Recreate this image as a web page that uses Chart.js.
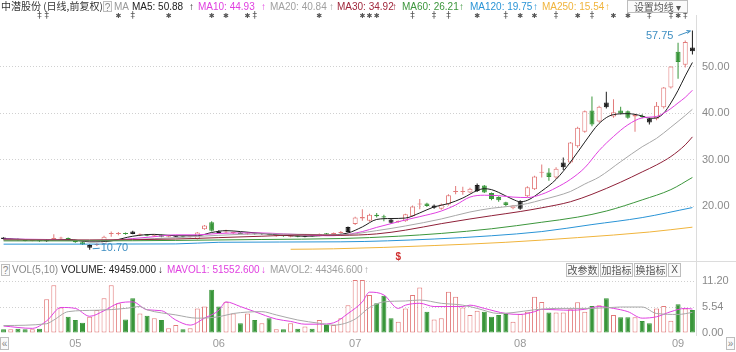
<!DOCTYPE html>
<html>
<head>
<meta charset="utf-8">
<script src="https://cdn.jsdelivr.net/npm/chart.js@4.4.1/dist/chart.umd.min.js"></script>
<style>
body { margin:0; background:#fff; width:736px; height:352px; overflow:hidden; position:relative;
       font-family:"Liberation Sans","Noto Sans CJK SC",sans-serif; }
canvas { position:absolute; left:0; }
.t { position:absolute; font-size:10px; line-height:12px; white-space:nowrap; z-index:2; }
.box { position:absolute; border:1px solid #bdbdbd; background:#fafafa; color:#555; font-size:10px;
       line-height:11px; text-align:center; z-index:2; box-sizing:border-box; }
.ln { position:absolute; background:#dcdcdc; z-index:1; }
</style>
</head>
<body>
<canvas id="price" width="736" height="262" style="top:0"></canvas>
<canvas id="vol" width="736" height="90" style="top:262px"></canvas>

<!-- top legend -->
<div class="t" style="left:1px;top:0;color:#333;font-family:'Noto Sans CJK SC'">中潜股份 (日线,前复权)</div>
<div class="box" style="left:103px;top:1px;width:9px;height:11px;color:#888">?</div>
<div class="t" style="left:114px;top:1px;color:#999">MA</div>
<div class="t" style="left:132px;top:1px;color:#222">MA5: 50.88</div>
<div class="t" style="left:189px;top:1px;color:#222">↑</div>
<div class="t" style="left:198px;top:1px;color:#e040e0">MA10: 44.93</div>
<div class="t" style="left:261px;top:1px;color:#e040e0">↑</div>
<div class="t" style="left:270px;top:1px;color:#a0a0a0">MA20: 40.84</div>
<div class="t" style="left:329px;top:1px;color:#a0a0a0">↑</div>
<div class="t" style="left:337px;top:1px;color:#a0283c">MA30: 34.92</div>
<div class="t" style="left:392px;top:1px;color:#a0283c">↑</div>
<div class="t" style="left:402px;top:1px;color:#3c963c">MA60: 26.21</div>
<div class="t" style="left:459px;top:1px;color:#3c963c">↑</div>
<div class="t" style="left:470px;top:1px;color:#2a94d6">MA120: 19.75</div>
<div class="t" style="left:533px;top:1px;color:#2a94d6">↑</div>
<div class="t" style="left:542px;top:1px;color:#f0b43c">MA250: 15.54</div>
<div class="t" style="left:605px;top:1px;color:#f0b43c">↑</div>
<div class="box" style="left:627px;top:0;width:61px;height:13px;font-family:'Noto Sans CJK SC'">设置均线 ▾</div>

<!-- volume legend -->
<div class="box" style="left:1px;top:264px;width:9px;height:12px;color:#888">?</div>
<div class="t" style="left:12px;top:264px;color:#888">VOL(5,10)</div>
<div class="t" style="left:61px;top:264px;color:#222">VOLUME: 49459.000</div>
<div class="t" style="left:158px;top:264px;color:#222">↓</div>
<div class="t" style="left:167px;top:264px;color:#e040e0">MAVOL1: 51552.600</div>
<div class="t" style="left:261px;top:264px;color:#e040e0">↓</div>
<div class="t" style="left:270px;top:264px;color:#a0a0a0">MAVOL2: 44346.600</div>
<div class="t" style="left:364px;top:264px;color:#a0a0a0">↑</div>
<div class="box" style="left:566px;top:263px;width:33px;height:14px;font-family:'Noto Sans CJK SC'">改参数</div>
<div class="box" style="left:600px;top:263px;width:33px;height:14px;font-family:'Noto Sans CJK SC'">加指标</div>
<div class="box" style="left:634px;top:263px;width:33px;height:14px;font-family:'Noto Sans CJK SC'">换指标</div>
<div class="box" style="left:668px;top:263px;width:13px;height:14px">X</div>

<div class="box" style="left:0;top:337px;width:9px;height:13px;color:#888">«</div>
<div class="box" style="left:726px;top:337px;width:9px;height:13px;color:#888">»</div>

<div class="ln" style="left:0;top:261px;width:736px;height:1px"></div>
<div class="ln" style="left:696px;top:15px;width:1px;height:321px"></div>

<script>
// daily candles, about mid April to early September
const opens  = [13.3,12.9,13.0,12.8,12.6,12.7,12.5,12.9,13.1,13.2, 12.7,12.3,11.1,11.7,11.9,14.1,14.1,14.3,14.6,13.9,
                14.0,13.6,13.8,13.5,13.5,13.6,13.4,13.0,15.1,16.6, 14.6,14.4,14.3,14.4,14.0,14.2,14.0,14.2,13.6,13.7,
                13.5,13.6,13.5,13.6,13.7,14.2,13.9,14.3,14.5,16.2, 17.4,16.9,18.2,17.9,17.2,16.6,16.8,17.9,20.4,20.6,
                19.7,19.5,20.4,23.1,23.1,23.0,23.3,24.5,22.9,22.0, 20.9,19.6,19.5,22.2,23.7,27.2,27.3,26.2,28.4,29.4,
                32.9,36.0,40.6,38.2,42.3,39.3,40.6,40.4,39.3,39.4, 38.8,38.8,41.3,45.5,53.2,50.4,54.1];
const highs  = [13.4,13.1,13.1,12.9,12.8,12.8,13.0,14.0,13.5,13.3, 12.8,12.4,11.9,12.1,13.7,14.6,14.5,14.4,14.8,14.2,
                14.1,13.9,13.9,13.7,13.7,13.7,13.6,14.5,16.0,16.8, 14.9,15.0,14.6,14.5,14.4,14.3,14.3,14.3,13.9,13.8,
                13.7,13.7,13.7,13.7,14.2,14.3,14.4,14.7,15.7,17.8, 19.4,18.4,18.6,18.2,17.4,17.0,18.4,20.2,21.6,20.8,
                20.4,20.6,22.6,24.4,24.2,24.0,24.9,24.6,23.0,22.2, 21.0,20.3,21.3,24.3,26.6,29.0,28.2,28.4,30.5,33.8,
                37.1,40.6,43.6,41.6,44.6,43.0,41.4,40.6,39.9,39.8, 39.0,42.4,45.6,50.1,55.1,55.6,57.75];
const lows   = [12.9,12.8,12.7,12.5,12.5,12.4,12.4,12.8,12.9,12.6, 12.2,11.7,10.7,11.5,11.8,13.5,13.8,13.9,14.0,13.7,
                13.6,13.5,13.4,13.4,13.4,13.3,13.3,12.9,15.0,14.6, 14.2,14.3,14.1,14.0,13.9,13.9,13.9,13.8,13.5,13.5,
                13.4,13.4,13.4,13.5,13.6,13.9,13.8,14.2,14.4,16.0, 16.9,16.7,17.6,16.8,16.3,16.5,16.7,17.8,19.4,19.9,
                19.5,19.3,20.2,22.6,22.5,22.9,23.1,22.9,21.3,21.0, 20.0,19.4,19.3,22.0,23.5,26.2,25.5,25.9,27.8,29.2,
                32.6,35.8,37.2,38.0,41.0,39.0,39.7,38.8,36.0,38.9, 37.6,38.5,41.0,45.3,47.4,49.8,52.6];
const closes = [13.0,13.0,12.8,12.6,12.7,12.5,12.9,13.2,13.3,12.7, 12.3,11.8,11.7,11.9,13.5,14.2,14.2,14.1,14.1,14.0,
                13.7,13.8,13.5,13.6,13.6,13.4,13.5,14.4,15.9,14.8, 14.3,14.6,14.4,14.1,14.2,14.0,14.1,13.9,13.7,13.6,
                13.6,13.5,13.6,13.55,14.1,14.0,14.3,14.5,15.6,17.6, 17.7,18.2,17.9,17.6,16.5,16.9,18.3,20.0,20.6,20.1,
                20.2,20.4,22.4,23.3,23.25,23.8,24.6,23.0,21.6,21.3, 20.3,20.2,21.1,24.1,26.4,27.4,26.3,28.1,29.4,33.7,
                36.9,40.4,37.6,41.4,41.3,40.2,40.0,39.0,39.6,39.2, 38.0,41.6,45.5,50.0,51.0,55.3,53.3];
// volume, 10k lots
const volumes = [0.8,0.8,0.9,0.8,0.8,0.9,7.25,10.3,5.5,3.5, 2.8,2.2,3.5,4.95,7.5,10.3,6.4,2.9,7.5,4.2,
                 3.7,3.2,2.8,1.0,1.7,0.8,1.0,5.3,5.7,9.3, 5.7,6.75,4.2,2.1,4.2,2.8,2.1,3.2,0.8,0.8,
                 2.1,0.9,1.4,0.9,2.8,1.7,1.7,3.2,6.0,11.4, 11.4,8.2,6.4,8.0,3.2,2.4,5.3,8.2,9.8,4.6,
                 2.9,3.2,8.9,7.8,5.5,3.9,4.8,4.6,3.5,3.9, 4.1,2.4,4.1,4.6,7.8,6.7,4.4,4.4,4.4,5.1,
                 6.6,4.6,5.8,6.0,7.5,3.9,3.4,3.4,3.4,2.6, 2.1,5.3,5.8,2.65,6.2,5.3,4.95];

// dark-body candles
const markIdx = [0,6,12,18,24,30,36,42,48,54,60,66,72,78,84,90,96];

// moving averages, [bar index, value]
const ma5 = [[0,13.1],[3,12.9],[6,12.8],[9,12.9],[12,12.4],[15,12.6],[18,13.6],[21,14.0],[24,13.7],[27,13.7],
             [29,14.4],[31,14.8],[33,14.6],[36,14.2],[39,13.8],[42,13.6],[45,13.8],[48,14.3],[50,15.6],[52,17.2],
             [54,17.4],[56,17.5],[58,18.6],[60,19.9],[62,20.6],[64,21.8],[66,23.4],[67,23.8],[68,23.6],[69,23.0],
             [71,21.5],[72,21.0],[73,21.3],[75,23.3],[77,25.8],[79,29.5],[81,33.8],[83,37.8],[85,39.7],[87,39.9],
             [89,39.4],[90,38.9],[91,39.0],[92,40.0],[93,42.2],[94,44.9],[95,48.0],[96,50.88]];
const ma10 = [[0,13.0],[6,12.9],[12,12.6],[15,12.7],[18,13.1],[21,13.5],[24,13.9],[27,13.9],[30,14.2],[33,14.3],
              [36,14.3],[39,14.1],[42,13.9],[45,13.7],[47,13.8],[50,14.6],[52,15.5],[54,16.3],[56,17.1],[58,17.8],
              [61,19.0],[63,20.3],[65,22.0],[67,22.4],[69,22.3],[71,22.0],[73,21.9],[75,22.6],[77,24.0],[79,25.8],
              [81,28.3],[83,32.0],[85,35.0],[87,37.5],[89,39.0],[91,39.3],[92,40.0],[93,41.0],[94,42.2],[95,43.4],
              [96,44.93]];
const ma20 = [[0,12.9],[6,12.8],[12,12.7],[18,12.9],[24,13.3],[30,13.8],[36,14.1],[42,14.0],[47,13.9],[52,14.8],
              [56,15.8],[61,17.3],[65,18.8],[68,19.6],[71,20.1],[73,20.6],[75,21.4],[77,22.2],[79,23.2],[81,24.8],
              [83,26.3],[86,29.6],[89,32.8],[91,34.6],[93,37.0],[95,39.5],[96,40.84]];
const ma30 = [[0,12.8],[12,12.8],[24,13.0],[30,13.3],[36,13.6],[42,13.9],[47,13.8],[52,14.1],[56,14.9],[61,16.3],
              [65,17.3],[68,18.0],[72,18.9],[75,19.7],[79,21.0],[82,22.6],[86,25.2],[89,27.4],[91,28.9],[93,30.7],
              [95,33.2],[96,34.92]];
const ma60 = [[0,12.6],[12,12.6],[24,12.7],[36,12.9],[47,13.1],[55,13.6],[61,14.2],[68,15.2],[75,16.6],[80,17.7],
              [84,19.0],[89,21.4],[93,23.6],[96,26.21]];
const ma120 = [[0,11.9],[24,11.95],[30,12.3],[47,12.4],[60,13.0],[68,13.7],[75,14.6],[82,16.1],[89,17.6],[96,19.75]];
const ma250 = [[40,10.8],[46,10.9],[60,11.6],[70,12.3],[80,13.3],[90,14.5],[96,15.54]];

const mavol1 = [[0,1.5],[4,1.0],[6,2.6],[8,5.5],[10,5.3],[12,3.6],[14,4.8],[16,6.4],[18,6.7],[20,5.0],
                [22,4.8],[24,2.8],[26,1.7],[28,3.2],[30,4.9],[31,6.7],[33,5.7],[35,4.6],[38,3.0],[40,2.5],
                [42,1.9],[44,1.9],[46,2.2],[48,4.2],[50,6.7],[51,8.8],[53,8.2],[55,5.3],[56,6.0],[58,6.4],
                [60,5.7],[64,5.7],[65,6.0],[67,5.3],[70,4.2],[72,4.0],[74,4.6],[75,5.1],[77,5.0],[79,4.9],
                [81,5.1],[83,5.7],[85,5.3],[87,4.6],[89,3.2],[91,3.5],[93,4.6],[95,5.3],[96,5.155]];
const mavol2 = [[0,1.6],[6,2.0],[7,2.8],[9,4.6],[13,4.9],[17,5.3],[19,5.7],[20,5.0],[24,3.9],[27,3.2],
                [30,3.5],[32,4.2],[36,4.6],[38,3.9],[41,2.8],[44,2.1],[46,1.7],[49,3.0],[51,5.5],[53,6.7],
                [56,6.9],[58,7.1],[61,6.4],[64,6.0],[66,5.3],[69,4.2],[71,4.4],[74,5.0],[77,5.3],[82,5.3],
                [86,5.6],[89,5.6],[91,4.2],[94,4.0],[96,4.435]];

const monthIdx = [10, 30, 49, 72, 94];
const monthLabels = ['05', '06', '07', '08', '09'];
const priceTicks = [20, 30, 40, 50];
const volTicks = [0, 5.54, 11.2];

// info markers along the top edge
const noteIdx = [5,6,16,18,23,29,31,34,35,44,50,51,52,57,60,62,66,70,72,74,77,80,82,85,87,90,93,94,95];
const noteSym = ['‡','‡','✱','‡','✱','✱','✱','✱','‡','✱','✱','✱','✱','‡','‡','‡','✱','‡','✱','✱','‡','✱','‡','✱','✱','‡','‡','✱','‡'];
const sigIdx = 55;

const N = closes.length;
const UP = '#e27a7a', DOWN = '#39963a', DARK = '#1c1c1c';

const isUp = i => closes[i] >= opens[i];
const lineColor = i => markIdx.includes(i) ? DARK : (isUp(i) ? UP : DOWN);
const fillColor = i => markIdx.includes(i) ? DARK : (isUp(i) ? '#ffffff' : DOWN);
const pts = a => a.map(p => ({x: p[0], y: p[1]}));

function maLine(arr, color) {
	return {
		type : 'line',
		data : pts(arr),
		borderColor : color,
		borderWidth : 1,
		pointRadius : 0,
		cubicInterpolationMode : 'monotone',
		order : 0
	};
}

const markPlugin = {
	id : 'marks',
	afterDatasetsDraw : function(chart) {
		var ctx = chart.ctx, xs = chart.scales.x, ys = chart.scales.y;
		ctx.save();
		ctx.fillStyle = '#555';
		ctx.textAlign = 'center';
		ctx.textBaseline = 'middle';
		noteIdx.forEach(function(v, k) {
			ctx.font = noteSym[k] === '‡' ? '9px "DejaVu Sans"' : '7px "DejaVu Sans"';
			ctx.fillText(noteSym[k], xs.getPixelForValue(v), 16);
		});

		var hi = Math.max.apply(null, highs), lo = Math.min.apply(null, lows);
		var iHi = highs.indexOf(hi), iLo = lows.indexOf(lo);
		var xh = xs.getPixelForValue(iHi), yh = ys.getPixelForValue(hi);
		var xl = xs.getPixelForValue(iLo), yl = ys.getPixelForValue(lo);
		ctx.strokeStyle = ctx.fillStyle = '#3f8fc2';
		ctx.lineWidth = 1;
		ctx.font = '11px "Liberation Sans"';
		ctx.textAlign = 'right';
		ctx.fillText(hi.toFixed(2), xh - 19, yh + 5);
		ctx.beginPath();
		ctx.moveTo(xh - 14, yh + 5); ctx.lineTo(xh - 2, yh + 0.5);
		ctx.moveTo(xh - 2, yh + 0.5); ctx.lineTo(xh - 6, yh);
		ctx.moveTo(xh - 2, yh + 0.5); ctx.lineTo(xh - 5, yh + 3);
		ctx.stroke();
		ctx.textAlign = 'left';
		ctx.fillText(lo.toFixed(2), xl + 11, yl - 1.5);
		ctx.beginPath();
		ctx.moveTo(xl + 3, yl - 1); ctx.lineTo(xl + 10, yl - 1.5);
		ctx.stroke();

		ctx.fillStyle = '#d03030';
		ctx.font = 'bold 10px "Liberation Sans"';
		ctx.textAlign = 'center';
		ctx.fillText('$', xs.getPixelForValue(sigIdx), 257);
		ctx.restore();
	}
};

var idx = closes.map(function(c, i) { return i; });

new Chart(document.getElementById('price').getContext('2d'), {
	type : 'bar',
	data : {
		datasets : [
			{
				data : idx.map(i => ({x: i, y: [lows[i], highs[i]]})),
				backgroundColor : idx.map(lineColor),
				barThickness : 1,
				grouped : false,
				inflateAmount : 0,
				order : 3
			},
			{
				data : idx.map(i => ({x: i, y: [opens[i], closes[i]]})),
				backgroundColor : idx.map(fillColor),
				borderColor : idx.map(lineColor),
				borderWidth : 1,
				borderSkipped : false,
				barThickness : 5,
				minBarLength : 1,
				grouped : false,
				inflateAmount : 0,
				order : 2
			},
			maLine(ma250, '#f0b43c'),
			maLine(ma120, '#2a94d6'),
			maLine(ma60, '#3c963c'),
			maLine(ma30, '#8e2038'),
			maLine(ma20, '#a8a8a8'),
			maLine(ma10, '#e040e0'),
			maLine(ma5, '#1e1e1e')
		]
	},
	options : {
		responsive : false,
		animation : false,
		devicePixelRatio : 1,
		layout : { padding : { top : 20, bottom : 9, left : 0, right : 0 } },
		plugins : { legend : { display : false }, tooltip : { enabled : false } },
		scales : {
			x : { type : 'linear', min : -0.5, max : N - 0.5, offset : false, display : false },
			y : {
				position : 'right', min : 10, max : 60,
				afterBuildTicks : function(s) { s.ticks = priceTicks.map(v => ({value: v})); },
				afterFit : function(s) { s.width = 40; s.paddingTop = 0; s.paddingBottom = 0; },
				ticks : { callback : v => v.toFixed(2), color : '#8a8a8a', padding : 6,
				          font : { size : 11, family : 'Liberation Sans' } },
				grid : { color : '#d0d0d0', drawTicks : false },
				border : { display : false, dash : [1, 2] }
			}
		}
	},
	plugins : [markPlugin]
});

new Chart(document.getElementById('vol').getContext('2d'), {
	type : 'bar',
	data : {
		datasets : [
			{
				data : idx.map(i => ({x: i, y: volumes[i]})),
				backgroundColor : idx.map(i => isUp(i) ? '#ffffff' : DOWN),
				borderColor : idx.map(i => isUp(i) ? UP : DOWN),
				borderWidth : 1,
				borderSkipped : false,
				barThickness : 5,
				grouped : false,
				inflateAmount : 0,
				order : 2
			},
			maLine(mavol2, '#a8a8a8'),
			maLine(mavol1, '#e040e0')
		]
	},
	options : {
		responsive : false,
		animation : false,
		devicePixelRatio : 1,
		layout : { padding : { top : 18, bottom : 0, left : 0, right : 0 } },
		plugins : { legend : { display : false }, tooltip : { enabled : false } },
		scales : {
			x : {
				type : 'linear', min : -0.5, max : N - 0.5, offset : false, position : 'bottom',
				afterBuildTicks : function(s) { s.ticks = monthIdx.map(v => ({value: v})); },
				afterFit : function(s) { s.height = 19; s.paddingLeft = 0; s.paddingRight = 0; },
				ticks : { callback : (v, i) => monthLabels[i], autoSkip : false, maxRotation : 0,
				          color : '#9a9a9a', padding : 4, font : { size : 11, family : 'Liberation Sans' } },
				grid : { display : false, drawTicks : false },
				border : { display : false }
			},
			y : {
				position : 'right', min : 0, max : 11.42,
				afterBuildTicks : function(s) { s.ticks = volTicks.map(v => ({value: v})); },
				afterFit : function(s) { s.width = 40; s.paddingTop = 0; s.paddingBottom = 0; },
				ticks : { callback : v => v.toFixed(2), color : '#8a8a8a', padding : 6,
				          font : { size : 11, family : 'Liberation Sans' } },
				grid : { color : c => c.tick && c.tick.value === 0 ? 'rgba(0,0,0,0)' : '#d0d0d0', drawTicks : false },
				border : { display : false, dash : [1, 2] }
			}
		}
	}
});
</script>
</body>
</html>
